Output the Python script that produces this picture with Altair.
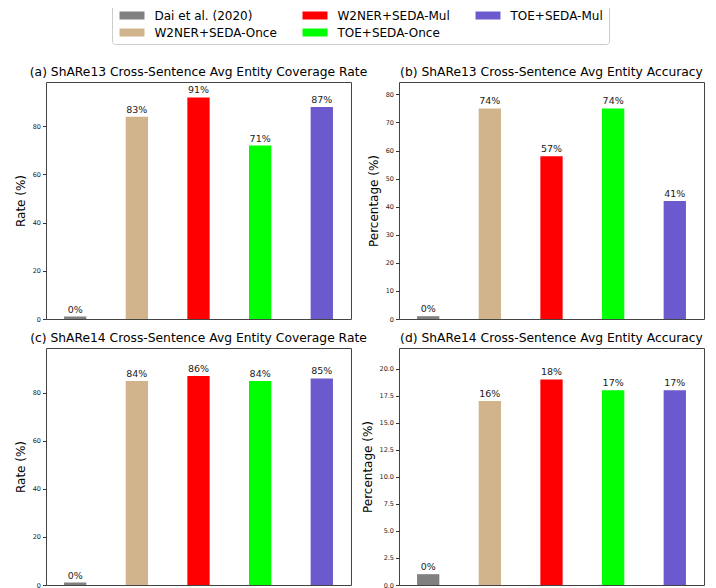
import altair as alt
import pandas as pd

methods = ["Dai et al. (2020)", "W2NER+SEDA-Once", "W2NER+SEDA-Mul", "TOE+SEDA-Once", "TOE+SEDA-Mul"]
colors = ["#808080", "#d2b48c", "#ff0000", "#00ff00", "#6a5acd"]
legend_order = ["Dai et al. (2020)", "W2NER+SEDA-Mul", "TOE+SEDA-Mul", "W2NER+SEDA-Once", "TOE+SEDA-Once"]
legend_colors = ["#808080", "#ff0000", "#6a5acd", "#d2b48c", "#00ff00"]

titles = [
    "(a) ShARe13 Cross-Sentence Avg Entity Coverage Rate",
    "(b) ShARe13 Cross-Sentence Avg Entity Accuracy",
    "(c) ShARe14 Cross-Sentence Avg Entity Coverage Rate",
    "(d) ShARe14 Cross-Sentence Avg Entity Accuracy",
]
ytitles = ["Rate (%)", "Percentage (%)", "Rate (%)", "Percentage (%)"]

heights_a = [1, 84, 92, 72, 88]
labels_a = [0, 83, 91, 71, 87]
heights_b = [1, 75, 58, 75, 42]
labels_b = [0, 74, 57, 74, 41]
heights_c = [1, 85, 87, 85, 86]
labels_c = [0, 84, 86, 84, 85]
heights_d = [1, 17, 19, 18, 18]
labels_d = [0, 16, 18, 17, 17]

ymax = [98.4, 84.4, 98.7, 21.9]
yticks_a = [0, 20, 40, 60, 80]
yticks_b = [0, 10, 20, 30, 40, 50, 60, 70, 80]
yticks_c = [0, 20, 40, 60, 80]
yticks_d = [0, 2.5, 5, 7.5, 10, 12.5, 15, 17.5, 20]
yformats = ["d", "d", "d", ".1f"]

FONT = "DejaVu Sans"

color_enc = alt.Color(
    "method:N",
    scale=alt.Scale(domain=legend_order, range=legend_colors),
    legend=alt.Legend(
        title=None,
        orient="none",
        legendX=66,
        legendY=-78,
        columns=3,
        direction="horizontal",
        symbolType="M-1,-1H5.25V1H-1Z",
        symbolSize=64,
        symbolStrokeWidth=0,
        labelFontSize=12,
        labelFont=FONT,
        labelColor="#000000",
        labelOffset=25,
        columnPadding=23,
        rowPadding=5,
        padding=5.5,
        strokeColor="#cccccc",
        fillColor="#ffffff",
        cornerRadius=3,
        labelLimit=300,
    ),
)


def panel(heights, labels, title, ytitle, top, ticks, fmt):
    df = pd.DataFrame({
        "i": list(range(len(methods))),
        "method": methods,
        "h": heights,
        "lab": [f"{v}%" for v in labels],
    })
    base = alt.Chart(df)
    xenc = alt.X("i:Q", scale=alt.Scale(domain=[-0.3925, 4.3925], nice=False, zero=False), axis=None)
    yenc = alt.Y(
        "h:Q",
        scale=alt.Scale(domain=[0, top], nice=False),
        axis=alt.Axis(
            title=ytitle,
            values=ticks,
            tickCount=len(ticks),
            format=fmt,
            grid=False,
            domain=False,
            labelOverlap=False,
            tickSize=3.5,
            tickColor="#333333",
            labelFontSize=6.5,
            labelFont=FONT,
            labelColor="#222222",
            labelPadding=2,
            titleFont=FONT,
            titleFontSize=12,
            titleFontWeight="normal",
            titleColor="#000000",
            titlePadding=5,
        ),
    )
    bars = base.mark_bar(size=22.3).encode(x=xenc, y=yenc, color=color_enc)
    text = base.mark_text(baseline="bottom", dy=-2, fontSize=9.5, font=FONT, color="#222222").encode(
        x=xenc, y=yenc, text="lab:N"
    )
    return (bars + text).properties(
        width=305,
        height=237,
        title=alt.TitleParams(title, font=FONT, fontSize=12.3, fontWeight="normal", color="#000000", offset=4),
    )


pa = panel(heights_a, labels_a, titles[0], ytitles[0], ymax[0], yticks_a, yformats[0])
pb = panel(heights_b, labels_b, titles[1], ytitles[1], ymax[1], yticks_b, yformats[1])
pc = panel(heights_c, labels_c, titles[2], ytitles[2], ymax[2], yticks_c, yformats[2])
pd_ = panel(heights_d, labels_d, titles[3], ytitles[3], ymax[3], yticks_d, yformats[3])

chart = alt.concat(
    pa, pb, pc, pd_, columns=2, spacing={"row": 29, "column": 48}, bounds="flush"
).resolve_scale(
    color="shared", y="independent"
).configure_view(stroke="#444444", strokeWidth=1).properties(
    padding={"left": 5, "top": -5, "right": 0, "bottom": 0}
)

chart.save("out.html", embed_options={"renderer": "svg", "actions": False})
